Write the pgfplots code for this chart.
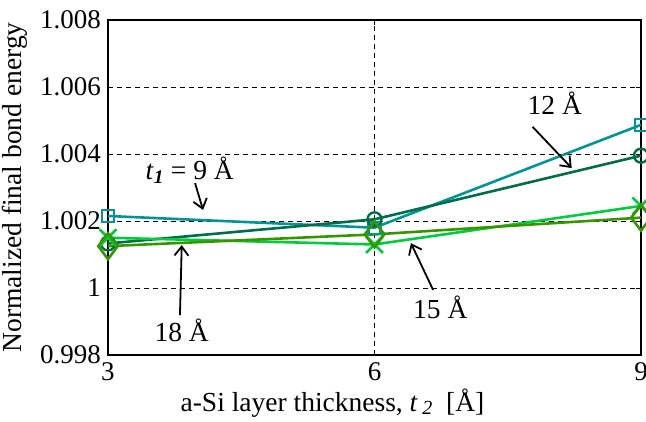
\documentclass[border=0pt]{standalone}
\usepackage{pgfplots}
\pgfplotsset{compat=1.18}
\usepackage{fontspec}
\setmainfont{Liberation Serif}
\usetikzlibrary{arrows.meta}
\definecolor{c9}{RGB}{0,150,150}
\definecolor{c12}{RGB}{0,110,75}
\definecolor{c15}{RGB}{0,205,60}
\definecolor{c18}{RGB}{55,150,0}
\begin{document}
\fontsize{27bp}{30bp}\selectfont
\begin{tikzpicture}[x=1bp,y=1bp]
\begin{axis}[
  scale only axis, width=533bp, height=335bp,
  xmin=3, xmax=9, ymin=0.998, ymax=1.008,
  xtick={3,6,9}, ytick={0.998,1,1.002,1.004,1.006,1.008},
  yticklabels={0.998,1,1.002,1.004,1.006,1.008},
  xticklabels={3,6,9},
  grid=major,
  grid style={black, dashed, line width=0.8bp, dash pattern=on 5bp off 4bp},
  axis line style={black, line width=1.6bp},
  tick style={black, line width=0.8bp},
  major tick length=5bp,
  tick align=inside,
  ticklabel style={font=\fontsize{27bp}{30bp}\selectfont},
  /pgf/number format/assume math mode=true,
  xticklabel style={yshift=2bp},
  yticklabel style={xshift=2bp},
  xlabel={a-Si layer thickness, \textit{t}\,\raisebox{-0.3ex}{\fontsize{20bp}{22bp}\selectfont\textit{2}}~~[Å]},
  ylabel={Normalized final bond energy},
  label style={font=\fontsize{27.5bp}{30bp}\selectfont},
  xlabel style={yshift=10bp, xshift=-42bp},
  ylabel style={yshift=-6bp},
  clip=false,
  every axis plot/.append style={line width=2.6bp},
]
\addplot[c9, mark=square, mark size=6bp, mark options={line width=2.2bp}] coordinates {(3,1.00215) (6,1.0018) (9,1.00487)};
\addplot[c12, mark=o, mark size=7bp, mark options={line width=2.4bp}] coordinates {(3,1.00133) (6,1.00205) (9,1.00395)};
\addplot[c15, mark=x, mark size=12bp, mark options={line width=2.6bp}] coordinates {(3,1.0015) (6,1.0013) (9,1.00245)};
\addplot[c18, mark=diamond, mark size=13bp, mark options={line width=2.6bp}] coordinates {(3,1.00125) (6,1.0016) (9,1.0021)};

\node[font=\fontsize{27.5bp}{30bp}\selectfont] at (axis cs:3.92,1.00352) {\textit{t}\textsubscript{\textit{\textbf{1}}} = 9 Å};
\draw[line width=1.8bp, -{Straight Barb[length=9bp,width=14bp]}] (axis cs:3.98,1.00313) -- (axis cs:4.07,1.00233);
\node[font=\fontsize{27.5bp}{30bp}\selectfont] at (axis cs:8.03,1.00552) {12 Å};
\draw[line width=1.8bp, -{Straight Barb[length=9bp,width=14bp]}] (axis cs:7.78,1.00481) -- (axis cs:8.22,1.00358);
\node[font=\fontsize{27.5bp}{30bp}\selectfont] at (axis cs:6.74,0.99943) {15 Å};
\draw[line width=1.8bp, -{Straight Barb[length=9bp,width=14bp]}] (axis cs:6.66,0.99994) -- (axis cs:6.41,1.00134);
\node[font=\fontsize{27.5bp}{30bp}\selectfont] at (axis cs:3.83,0.99875) {18 Å};
\draw[line width=1.8bp, -{Straight Barb[length=9bp,width=14bp]}] (axis cs:3.81,0.99919) -- (axis cs:3.83,1.00128);
\coordinate (ll) at (rel axis cs:0,0);
\end{axis}
\pgfresetboundingbox
\useasboundingbox ([shift={(-108,-66)}]ll) rectangle ([shift={(538,355)}]ll);
\end{tikzpicture}
\end{document}
